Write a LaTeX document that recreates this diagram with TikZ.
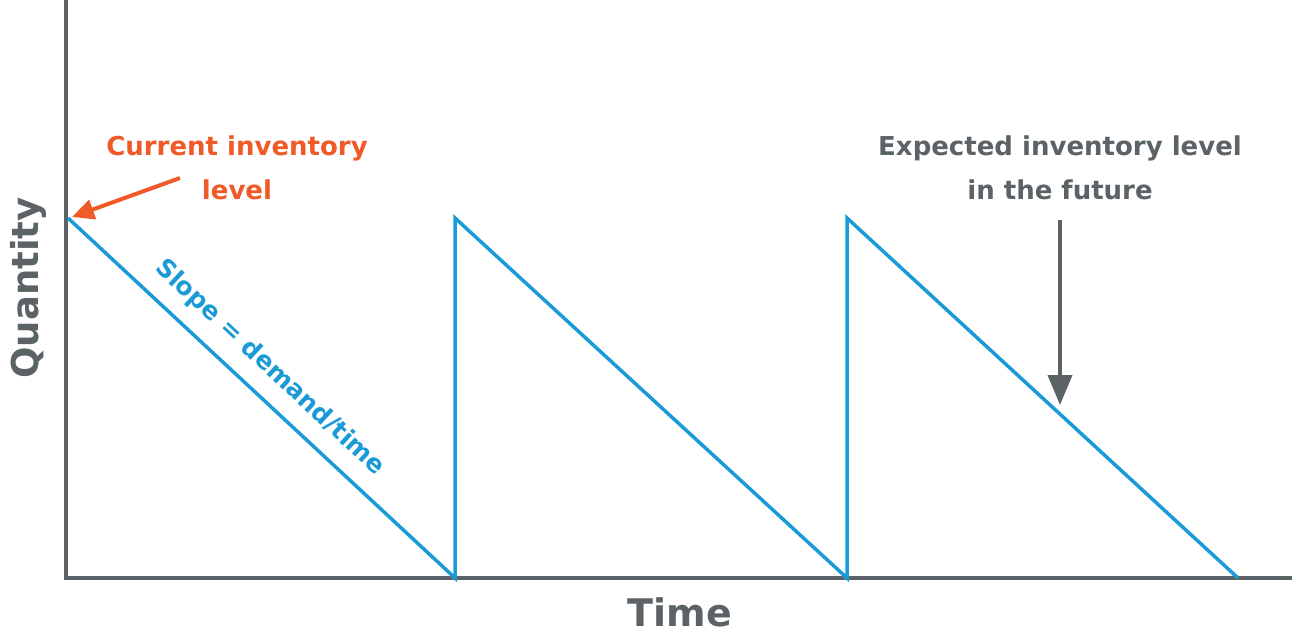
\documentclass[tikz,border=0pt]{standalone}
\usepackage{fontspec}
\setmainfont{DejaVu Sans}
\usetikzlibrary{arrows.meta}
\definecolor{axgray}{HTML}{5C6366}
\definecolor{sblue}{HTML}{1A9BD7}
\definecolor{corange}{HTML}{F05A28}
\begin{document}
\begin{tikzpicture}[x=1pt,y=-1pt,
  lbl/.style={font=\fontsize{26}{44}\selectfont\bfseries,align=center},
  ax/.style={draw=axgray,line width=4pt}]
\useasboundingbox (0,0) rectangle (1292,643);
\coordinate (o) at (66,578);
\coordinate (ytop) at (66,0);
\coordinate (xend) at (1292,578);
\draw[ax] (ytop) -- (o) -- (xend);
\coordinate (p0) at (68,218);
\coordinate (b1) at (455,578);
\coordinate (t1) at (455,218);
\coordinate (b2) at (847,578);
\coordinate (t2) at (847,218);
\coordinate (b3) at (1238,578);
\draw[sblue,line width=3.5pt,line join=miter] (p0) -- (b1) -- (t1) -- (b2) -- (t2) -- (b3);
\node[font=\fontsize{37}{50}\selectfont\bfseries,text=axgray,rotate=90] (q) at (28,288) {Quantity};
\node[font=\fontsize{38}{50}\selectfont\bfseries,text=axgray] (t) at (680,612) {Time};
\node[lbl,text=corange] (cur) at (237,168) {Current inventory\\level};
\draw[corange,line width=4pt,-{Triangle[length=22pt,width=20pt]}] (180,178) -- (72,217);
\node[lbl,text=axgray] (exp) at (1060,168) {Expected inventory level\\in the future};
\coordinate (ea) at (1060,220);
\coordinate (eb) at (1060,405);
\draw[axgray,line width=4pt,-{Triangle[length=30pt,width=24pt]}] (ea) -- (eb);
\node[font=\fontsize{25}{30}\selectfont\bfseries,text=sblue,rotate=-42.9] (sl) at (270,368) {Slope = demand/time};
\end{tikzpicture}
\end{document}
